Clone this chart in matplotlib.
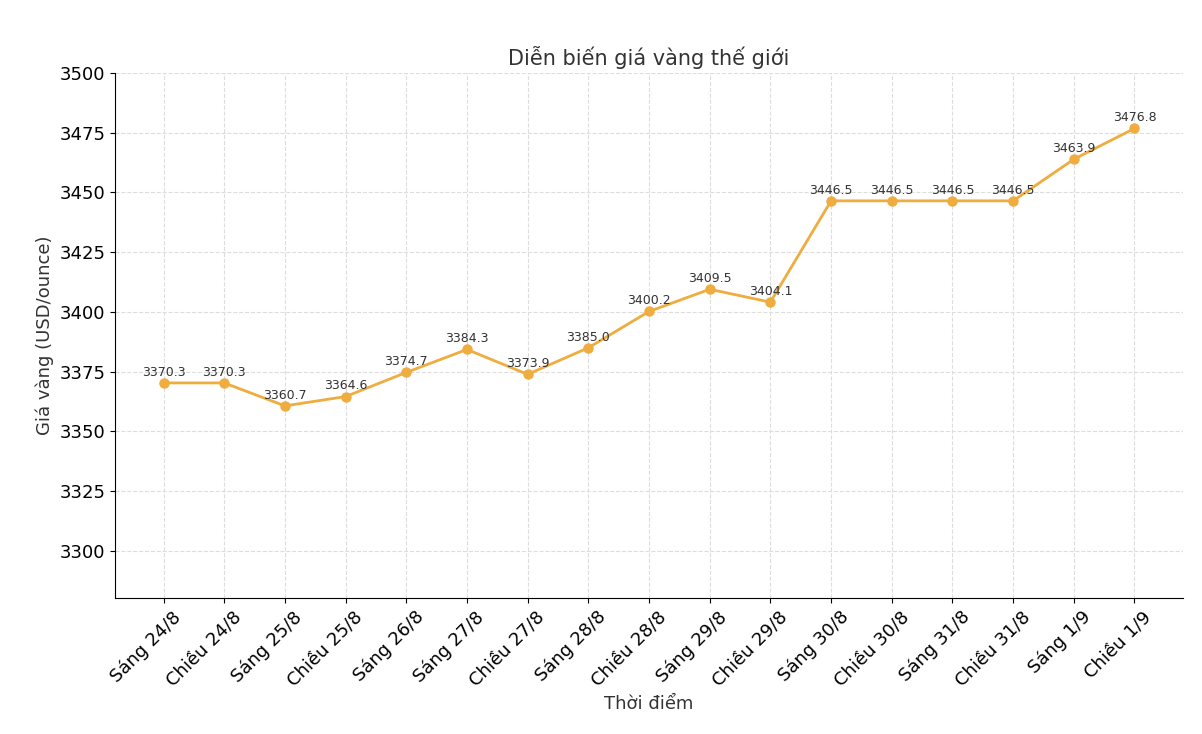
import matplotlib
matplotlib.use("Agg")
import matplotlib.pyplot as plt
import matplotlib.transforms as mtrans

labels = ["Sáng 24/8","Chiều 24/8","Sáng 25/8","Chiều 25/8","Sáng 26/8","Sáng 27/8",
          "Chiều 27/8","Sáng 28/8","Chiều 28/8","Sáng 29/8","Chiều 29/8","Sáng 30/8",
          "Chiều 30/8","Sáng 31/8","Chiều 31/8","Sáng 1/9","Chiều 1/9"]
prices = [3370.3,3370.3,3360.7,3364.6,3374.7,3384.3,3373.9,3385.0,3400.2,3409.5,
          3404.1,3446.5,3446.5,3446.5,3446.5,3463.9,3476.8]
yticks = [3300,3325,3350,3375,3400,3425,3450,3475,3500]

fig = plt.figure(figsize=(12.02,7.34), dpi=100)
ax = fig.add_axes([115/1202, 1-598/734, (1183-115)/1202, (598-73)/734])
x = list(range(len(prices)))
ax.plot(x, prices, color="#efac3f", lw=2, marker="o", ms=6.5, zorder=3)
for xi, v in zip(x, prices):
    ax.annotate(f"{v:.1f}", (xi, v), xytext=(0,3), textcoords="offset points",
                ha="center", va="bottom", fontsize=9, color="#333333")
ax.set_xlim(-0.8, 16.8)
ax.set_ylim(3280.3, 3500)
ax.set_yticks(yticks)
ax.set_xticks(x)
ax.set_xticklabels(labels, rotation=45, ha="right", rotation_mode="anchor", fontsize=13)
off = mtrans.ScaledTranslation(8/100, 0, fig.dpi_scale_trans)
for t in ax.get_xticklabels():
    t.set_transform(t.get_transform() + off)
ax.tick_params(axis="y", labelsize=13)
ax.grid(True, ls="--", color="#dddddd", lw=0.8)
for s in ["top","right"]:
    ax.spines[s].set_visible(False)
ax.set_title("Diễn biến giá vàng thế giới", fontsize=15, color="#333333", pad=6)
ax.set_xlabel("Thời điểm", fontsize=13, color="#333333")
ax.set_ylabel("Giá vàng (USD/ounce)", fontsize=13, color="#333333")
fig.savefig("out.png", dpi=100)
